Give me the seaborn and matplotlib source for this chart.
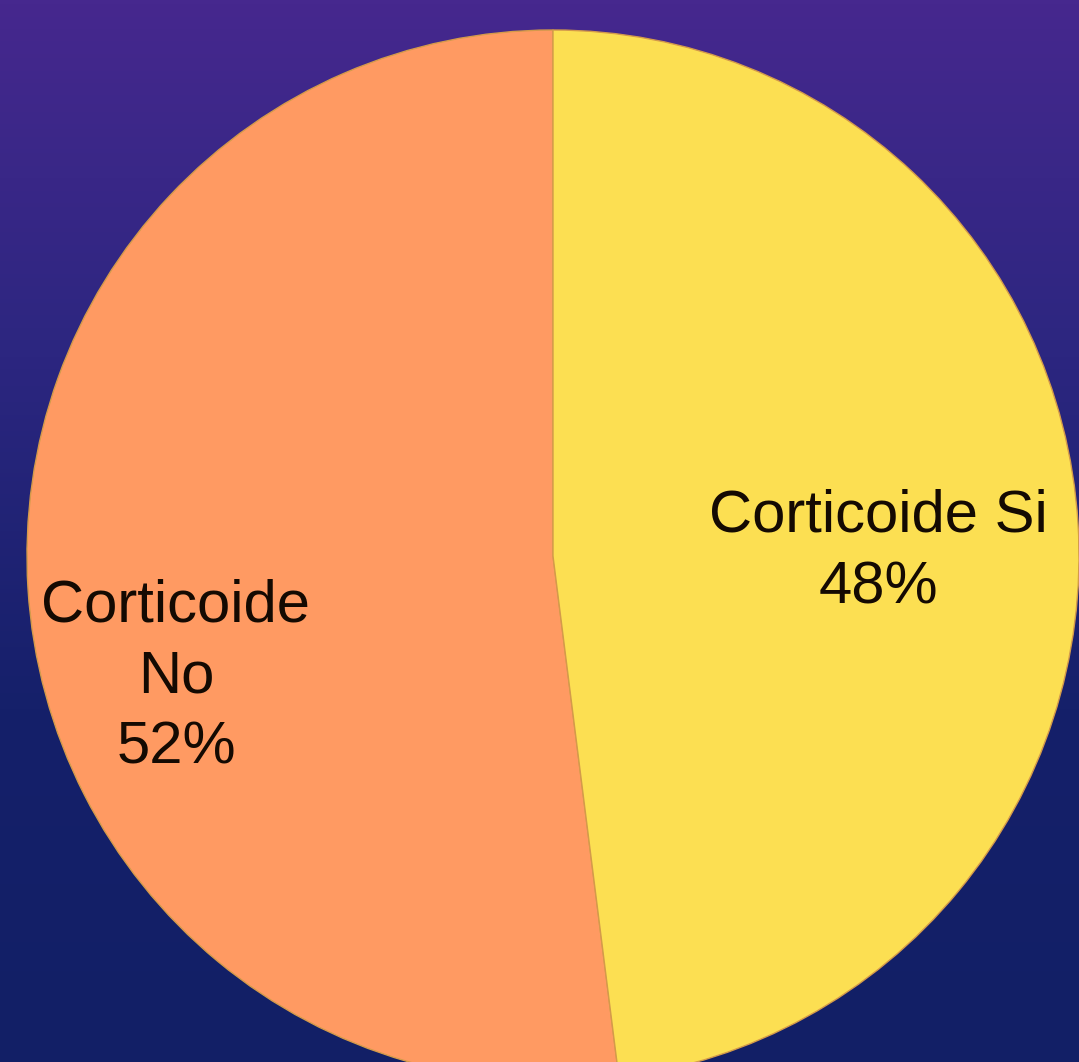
import numpy as np
import matplotlib
matplotlib.use("Agg")
import matplotlib.pyplot as plt
import matplotlib.colors as mcolors
import seaborn as sns

sns.set_theme(style="white")
plt.rcParams['font.family'] = ['Liberation Sans', 'DejaVu Sans']

# Data
categories = ["Corticoide No", "Corticoide Si"]
shares = [52, 48]
label_texts = ["Corticoide\nNo\n52%", "Corticoide Si\n48%"]
colors = ["#FF9A62", "#FCDF52"]

W, H = 1079, 1062
fig = plt.figure(figsize=(W / 100, H / 100), dpi=100)

# Background gradient
bg = fig.add_axes([0, 0, 1, 1])
cmap = mcolors.LinearSegmentedColormap.from_list("bg", ["#46288E", "#2C2680", "#15206A", "#121F66"])
grad = np.linspace(0, 1, 256).reshape(-1, 1)
bg.imshow(grad, aspect="auto", cmap=cmap, extent=[0, 1, 0, 1], origin="upper")
bg.axis("off")

# Pie axes in pixel units
ax = fig.add_axes([0, 0, 1, 1])
ax.set_xlim(0, W)
ax.set_ylim(0, H)
ax.patch.set_alpha(0)
cx, cy, r = 553, H - 556, 526
wedges, _ = ax.pie(shares, colors=colors, startangle=90, counterclock=True,
                   center=(cx, cy), radius=r,
                   wedgeprops=dict(edgecolor="#D49A4A", linewidth=1.0))
ax.set_xlim(0, W)
ax.set_ylim(0, H)
ax.set_aspect("auto")
ax.axis("off")

label_pos = [(176, H - 677), (878, H - 552)]
for txt, (x, y) in zip(label_texts, label_pos):
    ax.text(x, y, txt, ha="center", va="center", fontsize=43,
            color="#140A02", linespacing=1.38, multialignment="center")

fig.savefig("out.png", dpi=100)
